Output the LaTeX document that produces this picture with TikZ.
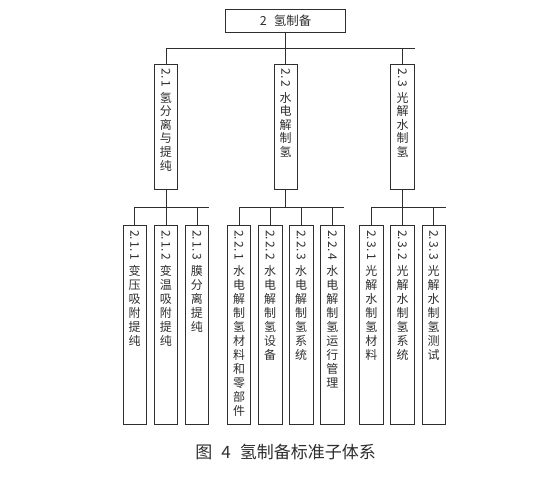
\documentclass[tikz,border=0pt]{standalone}
\usepackage{fontspec}
\setmainfont{Noto Sans CJK SC}
\usepackage{graphicx}
\usepackage{tikz}
\usetikzlibrary{positioning,calc}
\definecolor{ink}{HTML}{2E2E2E}
\newcommand{\stdnum}[1]{\rotatebox{-90}{#1}}
\newcommand{\vcol}[3]{\parbox[t][#1][t]{16pt}{\centering\stdnum{#2}\\[4pt]#3}}

\begin{document}
\begin{tikzpicture}[
  rootbox/.style={draw=ink,line width=0.6pt,text=ink,minimum width=120pt,
                  minimum height=23pt,inner sep=0pt,
                  font=\fontsize{12.5pt}{15pt}\selectfont},
  groupbox/.style={draw=ink,line width=0.6pt,text=ink,minimum width=23.5pt,
                   inner xsep=0pt,inner ysep=4pt,
                   font=\fontsize{12pt}{13.6pt}\selectfont},
  leafbox/.style={groupbox,inner ysep=5pt,font=\fontsize{12pt}{14pt}\selectfont},
  bus/.style={draw=ink,line width=0.6pt},
  captext/.style={text=ink,inner sep=0pt,font=\fontsize{17pt}{20pt}\selectfont}
]
\useasboundingbox (0,0) rectangle (540pt,-485pt);

% third level
\node[leafbox] (n211) at (134.7pt,-324.5pt) {\vcol{189pt}{2.\,1.\,1}{变\\压\\吸\\附\\提\\纯}};
\node[leafbox,right=7pt of n211] (n212) {\vcol{189pt}{2.\,1.\,2}{变\\温\\吸\\附\\提\\纯}};
\node[leafbox,right=7pt of n212] (n213) {\vcol{189pt}{2.\,1.\,3}{膜\\分\\离\\提\\纯}};
\node[leafbox,right=18pt of n213] (n221) {\vcol{189pt}{2.\,2.\,1}{水\\电\\解\\制\\氢\\材\\料\\和\\零\\部\\件}};
\node[leafbox,right=7pt of n221] (n222) {\vcol{189pt}{2.\,2.\,2}{水\\电\\解\\制\\氢\\设\\备}};
\node[leafbox,right=7pt of n222] (n223) {\vcol{189pt}{2.\,2.\,3}{水\\电\\解\\制\\氢\\系\\统}};
\node[leafbox,right=7pt of n223] (n224) {\vcol{189pt}{2.\,2.\,4}{水\\电\\解\\制\\氢\\运\\行\\管\\理}};
\node[leafbox,right=15pt of n224] (n231) {\vcol{189pt}{2.\,3.\,1}{光\\解\\水\\制\\氢\\材\\料}};
\node[leafbox,right=7pt of n231] (n232) {\vcol{189pt}{2.\,3.\,2}{光\\解\\水\\制\\氢\\系\\统}};
\node[leafbox,right=7pt of n232] (n233) {\vcol{189pt}{2.\,3.\,3}{光\\解\\水\\制\\氢\\测\\试}};

% second level
\coordinate (m22) at ($(n222.north)!0.5!(n223.north)$);
\node[groupbox,above=35pt of n212] (n21) {\vcol{117pt}{2.\,1}{氢\\分\\离\\与\\提\\纯}};
\node[groupbox,above=35pt of m22] (n22) {\vcol{117pt}{2.\,2}{水\\电\\解\\制\\氢}};
\node[groupbox,above=35pt of n232] (n23) {\vcol{117pt}{2.\,3}{光\\解\\水\\制\\氢}};

% top
\node[rootbox,above=32pt of n22] (n2) {2\hspace{7pt}氢制备};

% connectors
\coordinate (j0) at ($(n2.south)!0.5!(n22.north)$);
\draw[bus] (n21.north) |- (n23.north east |- j0);
\draw[bus] (n2.south) -- (n22.north);
\draw[bus] (n23.north) -- (n23.north |- j0);

\coordinate (j1) at ($(n21.south)!0.5!(n212.north)$);
\draw[bus] (n211.north) |- (n213.north east |- j1);
\draw[bus] (n21.south) -- (n212.north);
\draw[bus] (n213.north) -- (n213.north |- j1);

\coordinate (j2) at ($(n22.south)!0.5!(m22)$);
\draw[bus] (n221.north) |- (n224.north east |- j2);
\draw[bus] (n22.south) -- (n22.south |- j2);
\foreach \k in {n222,n223,n224}
  \draw[bus] (\k.north) -- (\k.north |- j2);

\coordinate (j3) at ($(n23.south)!0.5!(n232.north)$);
\draw[bus] (n231.north) |- (n233.north east |- j3);
\draw[bus] (n23.south) -- (n232.north);
\draw[bus] (n233.north) -- (n233.north |- j3);

% caption
\coordinate (m22b) at ($(n222.south)!0.5!(n223.south)$);
\node[captext,below=20pt of m22b] (cap) {图\hspace{9pt}4\hspace{9pt}氢制备标准子体系};
\end{tikzpicture}
\end{document}
